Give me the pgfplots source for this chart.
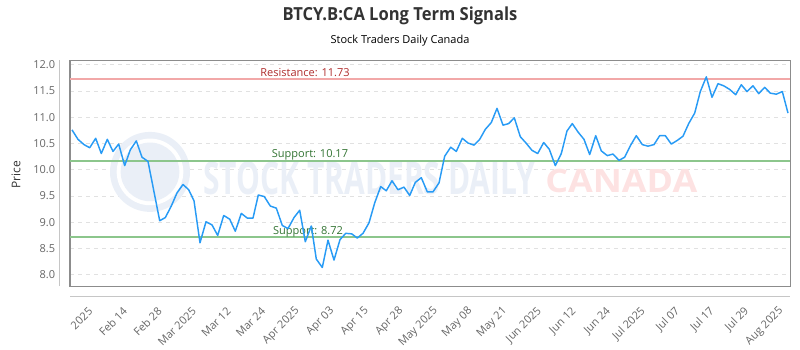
\documentclass[border=0pt]{standalone}
\usepackage{fontspec}
\setmainfont{Open Sans}
\usepackage{graphicx}
\usepackage{pgfplots}
\pgfplotsset{compat=1.18}
\definecolor{lineblue}{RGB}{40,155,245}
\definecolor{resline}{RGB}{242,168,168}
\definecolor{restext}{RGB}{175,45,45}
\definecolor{supline}{RGB}{140,198,140}
\definecolor{suptext}{RGB}{50,115,50}
\definecolor{titlec}{RGB}{51,51,51}
\definecolor{tickc}{RGB}{102,102,102}
\definecolor{gridc}{RGB}{225,225,225}
\definecolor{framec}{RGB}{140,140,140}
\definecolor{wmblue}{RGB}{234,239,247}
\definecolor{wmred}{RGB}{253,226,226}
\begin{document}
\begin{tikzpicture}
\useasboundingbox (-52.5pt,-48pt) rectangle (547.5pt,214.5pt);
\begin{axis}[
  at={(0,0)}, anchor=south west,
  width=540pt, height=169.5pt, scale only axis,
  xmin=70, xmax=790, ymin=7.787, ymax=12.091,
  axis line style={draw=framec, line width=0.75pt},
  major tick length=0pt,
  ytick={8,8.5,9,9.5,10,10.5,11,11.5,12},
  /pgf/number format/fixed, /pgf/number format/fixed zerofill, /pgf/number format/precision=1, /pgf/number format/assume math mode=true,
  yticklabel style={font=\fontsize{8.25}{9}\selectfont, text=tickc, anchor=east, inner sep=0pt, xshift=-11pt},
  xtick={92,126.55,161.1,195.65,230.2,264.75,299.3,333.85,368.4,402.95,437.5,472.05,506.6,541.15,575.7,610.25,644.8,679.35,713.9,748.45,783},
  xticklabels={2025,Feb 14,Feb 28,Mar 2025,Mar 12,Mar 24,Apr 2025,Apr 03,Apr 15,Apr 28,May 2025,May 08,May 21,Jun 2025,Jun 12,Jun 24,Jul 2025,Jul 07,Jul 17,Jul 29,Aug 2025},
  xticklabel style={font=\fontsize{8.25}{9}\selectfont, text=tickc, inner sep=0pt, xshift=-1pt, yshift=-17.5pt, rotate=45, anchor=east},
  ymajorgrids, grid style={dashed, gridc, line width=0.75pt},
]
% watermark
\fill[wmblue] (axis cs:150,9.96) circle[radius=30pt];
\fill[white] (axis cs:150,9.96) circle[radius=25pt];
\fill[wmblue] (axis cs:150,9.96) circle[radius=22pt];
\node[text=wmblue, inner sep=0pt, anchor=south west] at (axis cs:203,9.52) {\resizebox{249pt}{24.5pt}{\bfseries STOCK TRADERS DAILY}};
\node[text=wmred, inner sep=0pt, anchor=south west] at (axis cs:545,9.558) {\resizebox{114pt}{17.5pt}{\bfseries CANADA}};
% levels
\addplot[resline, line width=1.5pt] coordinates {(70,11.73) (790,11.73)};
\addplot[supline, line width=1.5pt] coordinates {(70,10.17) (790,10.17)};
\addplot[supline, line width=1.5pt] coordinates {(70,8.72) (790,8.72)};
\node[text=restext, font=\fontsize{8.25}{9}\selectfont, anchor=base] at (axis cs:305,11.785) {Resistance: 11.73};
\node[text=suptext, font=\fontsize{8.25}{9}\selectfont, anchor=base] at (axis cs:310,10.225) {Support: 10.17};
\node[text=suptext, font=\fontsize{8.25}{9}\selectfont, anchor=base] at (axis cs:308,8.775) {Support: 8.72};
% price
\addplot[lineblue, line width=1.1pt, line join=round] table {
x y
72 10.76
78 10.58
84 10.48
89.7 10.42
95.7 10.60
101.3 10.31
107.3 10.58
113 10.35
118.7 10.49
124.7 10.08
130.3 10.38
136.3 10.55
142 10.24
148 10.16
153.8 9.60
159.7 9.03
165.3 9.09
171.3 9.31
177 9.56
183 9.72
188.7 9.62
194 9.41
200 8.61
206 9.01
212 8.95
217.7 8.75
223.7 9.13
229.7 9.06
235.3 8.83
241.3 9.17
247.3 9.08
253 9.08
258.3 9.52
264.3 9.49
270.3 9.31
276.3 9.27
282.3 8.94
288 8.88
294 9.09
299.7 9.23
305.3 8.63
311.3 8.93
316.3 8.30
322.3 8.14
328 8.66
334 8.28
340 8.67
345.7 8.79
351.7 8.78
357.3 8.70
363 8.79
369 8.99
374.7 9.37
380.7 9.68
386.3 9.60
392 9.79
398 9.62
404 9.67
409.7 9.51
415.3 9.76
421.3 9.85
427.3 9.58
433 9.58
439 9.75
444.7 10.26
450.7 10.43
456.3 10.35
462.3 10.60
468 10.51
474 10.47
479.7 10.58
485.3 10.77
491.3 10.90
497 11.17
503 10.85
508.7 10.88
514.3 10.99
520.3 10.63
526 10.51
532 10.37
537.7 10.31
543.7 10.52
549.3 10.39
555.3 10.08
561.3 10.31
567 10.74
572.3 10.88
578 10.72
584 10.58
589.7 10.29
595.7 10.65
601.3 10.36
607.3 10.27
613 10.30
619 10.18
624.7 10.24
630.7 10.47
636.3 10.65
642.3 10.48
648 10.45
654 10.48
659.7 10.65
665.3 10.65
671.3 10.49
677.3 10.56
683 10.64
688.7 10.88
694.7 11.08
700.3 11.49
706.3 11.77
712 11.38
718 11.64
723.7 11.60
729.7 11.53
735.7 11.43
741.3 11.62
747 11.49
753 11.60
758.7 11.45
764.7 11.57
770.3 11.46
776.3 11.44
782.3 11.49
788 11.08
};
\end{axis}
\draw[gray!45, line width=0.75pt] (-7.5pt,0pt) -- (-7.5pt,169.5pt);
\draw[gray!45, line width=0.75pt] (0pt,-7.5pt) -- (540pt,-7.5pt);
\node[text=titlec, rotate=90, font=\fontsize{9}{10}\selectfont] at (-40.5pt,83.25pt) {Price};
\node[text=titlec, font=\fontsize{13.5}{15}\selectfont\bfseries, xscale=0.92] at (247.5pt,202.5pt) {BTCY.B:CA Long Term Signals};
\node[text=black, font=\fontsize{8.25}{10}\selectfont] at (247.5pt,183.75pt) {Stock Traders Daily Canada};
\end{tikzpicture}
\end{document}
